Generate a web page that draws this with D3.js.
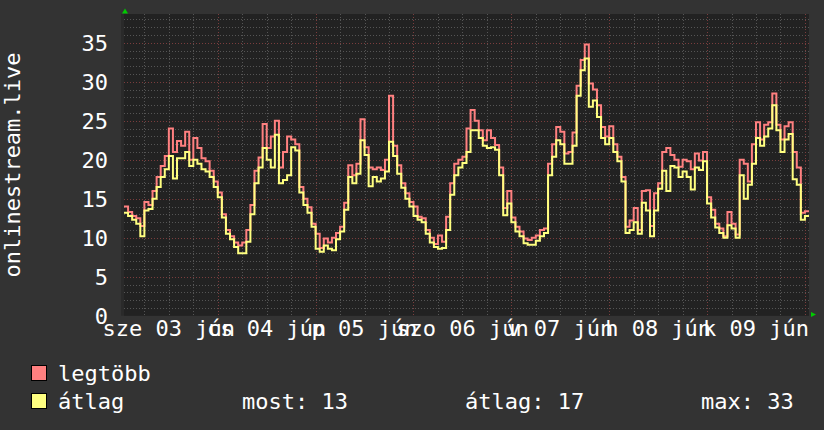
<!DOCTYPE html>
<html>
<head>
<meta charset="utf-8">
<script src="https://cdn.jsdelivr.net/npm/d3@7"></script>
<style>
  body { margin: 0; background: #333333; }
  svg text { font-family: "DejaVu Sans Mono", monospace; fill: #ffffff; }
</style>
</head>
<body>
<svg id="chart" width="824" height="430"></svg>
<script>
// hourly samples starting 2020-06-03 01:00 (UTC)
const maxValues = [
	14.0, 13.3, 12.8, 12.5, 11.5, 14.6, 14.2, 16.0, 17.8, 19.2, 20.5, 24.0,
	21.0, 22.4, 21.8, 23.6, 20.0, 22.8, 21.5, 20.2, 19.8, 18.6, 17.2, 15.8,
	13.0, 11.0, 10.2, 9.4, 9.0, 9.4, 11.0, 14.2, 18.6, 20.3, 24.6, 21.5,
	23.0, 25.0, 19.0, 21.0, 23.0, 22.6, 22.0, 16.5, 15.0, 13.9, 11.8, 10.5,
	8.7, 9.9, 9.4, 10.0, 10.6, 11.4, 14.5, 19.3, 18.0, 19.5, 25.2, 21.6,
	19.0, 18.8, 19.0, 18.7, 20.0, 28.2, 21.8, 19.3, 17.0, 15.7, 14.6, 14.0,
	12.7, 12.5, 11.0, 10.0, 9.2, 10.3, 9.5, 12.7, 17.0, 19.5, 20.0, 20.4,
	24.0, 26.4, 25.0, 23.8, 22.5, 23.8, 22.8, 21.9, 19.0, 13.8, 16.0, 12.6,
	11.4, 10.8, 9.9, 9.7, 10.0, 10.3, 11.0, 11.2, 19.5, 22.0, 24.2, 23.6,
	20.8, 21.0, 23.5, 29.5, 32.8, 34.8, 29.8, 29.0, 27.0, 24.2, 23.0, 24.3,
	22.0, 20.4, 17.8, 11.4, 12.2, 13.8, 11.0, 16.0, 16.1, 11.5, 15.7, 17.0,
	21.0, 21.5, 20.6, 20.0, 19.1, 20.0, 19.8, 18.8, 20.8, 19.9, 21.0, 15.2,
	13.6, 11.8, 11.2, 10.2, 13.3, 11.8, 10.4, 20.0, 19.5, 17.2, 22.0, 24.8,
	22.6, 24.5, 24.8, 28.5, 24.5, 22.6, 24.3, 24.8, 21.0, 19.0, 13.2, 13.4
];
const avgValues = [
	13.2, 12.8, 12.3, 11.8, 10.2, 13.5, 13.7, 15.0, 16.5, 17.8, 18.8, 20.5,
	17.6, 20.2, 20.2, 21.0, 19.2, 20.0, 19.5, 18.8, 18.5, 17.8, 16.5, 15.2,
	12.6, 10.5, 9.8, 8.8, 8.0, 8.0, 9.5, 13.0, 17.0, 19.0, 21.5, 20.0,
	19.0, 23.2, 17.0, 17.4, 18.0, 21.6, 21.2, 15.8, 14.2, 13.2, 11.4, 8.6,
	8.2, 9.0, 8.6, 8.4, 9.8, 10.8, 13.6, 17.8, 17.0, 18.2, 22.5, 20.6,
	16.6, 17.8, 17.2, 17.6, 18.5, 22.3, 20.5, 18.2, 16.4, 15.0, 14.0, 12.8,
	12.3, 12.0, 10.5, 9.4, 8.8, 8.6, 8.7, 11.0, 15.5, 18.0, 19.0, 19.6,
	21.0, 23.8, 23.8, 22.8, 21.8, 21.5, 21.6, 21.3, 18.0, 12.9, 14.4, 12.0,
	10.8, 10.2, 9.3, 9.1, 9.1, 9.6, 10.2, 10.6, 18.0, 20.4, 22.5, 22.0,
	19.5, 19.5, 21.8, 28.2, 31.5, 33.0, 26.8, 27.6, 25.5, 22.8, 22.0, 22.8,
	21.0, 19.8, 17.2, 10.6, 11.0, 12.0, 10.5, 14.5, 13.5, 10.2, 13.5, 16.3,
	18.6, 16.0, 19.2, 19.0, 17.8, 18.5, 17.8, 16.2, 19.0, 18.7, 19.8, 14.4,
	12.6, 11.3, 10.6, 10.0, 11.6, 11.2, 10.0, 18.0, 15.0, 16.8, 19.5, 22.8,
	21.8, 23.0, 24.0, 27.0, 23.8, 21.0, 22.6, 23.3, 17.5, 16.8, 12.3, 12.8
];
const seriesNames = ["legtöbb", "átlag"];
const seriesColors = ["#ff8080", "#ffff80"];
const gprintLabels = ["most: 13", "átlag: 17", "max: 33"];
const yTitle = "onlinestream.live";

const huLocale = d3.timeFormatLocale({
	dateTime: "%Y. %B %-e. %H:%M:%S", date: "%Y.%m.%d.", time: "%H:%M:%S",
	periods: ["de.", "du."],
	days: ["vasárnap", "hétfő", "kedd", "szerda", "csütörtök", "péntek", "szombat"],
	shortDays: ["v", "h", "k", "sze", "cs", "p", "szo"],
	months: ["január", "február", "március", "április", "május", "június", "július", "augusztus", "szeptember", "október", "november", "december"],
	shortMonths: ["jan", "febr", "márc", "ápr", "máj", "jún", "júl", "aug", "szept", "okt", "nov", "dec"]
});
const dayLabel = huLocale.utcFormat("%a %d %b");

const svg = d3.select("#chart");
const plotLeft = 124, plotRight = 809, plotTop = 14, plotBottom = 315.7;

const start = new Date(Date.UTC(2020, 5, 3, 1, 0));
const end = d3.utcHour.offset(start, maxValues.length);

const x = d3.scaleUtc().domain([start, end]).range([plotLeft, plotRight]);
const y = d3.scaleLinear().domain([0, 38.7]).range([plotBottom, plotTop]);

// backgrounds
svg.append("rect").attr("width", 824).attr("height", 430).attr("fill", "#333333");
svg.append("rect").attr("x", plotLeft - 3).attr("y", plotTop).attr("width", plotRight - plotLeft + 3)
	.attr("height", plotBottom - plotTop).attr("fill", "#2a2a2a");
svg.append("rect").attr("x", plotLeft).attr("y", plotTop).attr("width", plotRight - plotLeft)
	.attr("height", plotBottom - plotTop).attr("fill", "#222222");

// grid
const grid = svg.append("g").attr("stroke-dasharray", "1,2").attr("stroke-width", 1);
const crisp = v => Math.round(v) + 0.5;

d3.range(1, 39).forEach(v => {
	grid.append("line")
		.attr("x1", plotLeft).attr("x2", plotRight)
		.attr("y1", crisp(y(v))).attr("y2", crisp(y(v)))
		.attr("stroke", v % 5 === 0 ? "#7a3d3d" : "#555555");
});
d3.utcHour.every(6).range(start, end).forEach(t => {
	const major = t.getUTCHours() === 0;
	grid.append("line")
		.attr("x1", crisp(x(t))).attr("x2", crisp(x(t)))
		.attr("y1", plotTop).attr("y2", plotBottom)
		.attr("stroke", major ? "#7a3d3d" : "#555555");
});

// y axis labels
svg.append("g").selectAll("text")
	.data(d3.range(0, 36, 5))
	.join("text")
	.attr("x", 108).attr("y", d => y(d) + 8)
	.attr("text-anchor", "end")
	.attr("font-size", 22)
	.text(d => d);

// x axis labels centered at noon (only noons inside the plotted range)
const noons = d3.utcDay.range(d3.utcDay.floor(start), end)
	.map(d => d3.utcHour.offset(d, 12))
	.filter(d => d < end);
svg.append("g").selectAll("text")
	.data(noons)
	.join("text")
	.attr("x", d => x(d)).attr("y", 336)
	.attr("text-anchor", "middle")
	.attr("font-size", 22)
	.text(d => dayLabel(d));

// y title
svg.append("text")
	.attr("transform", "translate(20,165) rotate(-90)")
	.attr("text-anchor", "middle")
	.attr("font-size", 22)
	.text(yTitle);

// series lines (steps)
const toPoints = vals => {
	const pts = vals.map((v, i) => [d3.utcHour.offset(start, i), v]);
	pts.push([end, vals[vals.length - 1]]);
	return pts;
};
const line = d3.line()
	.x(d => x(d[0]))
	.y(d => y(d[1]))
	.curve(d3.curveStepAfter);

[maxValues, avgValues].forEach((vals, i) => {
	svg.append("path")
		.attr("d", line(toPoints(vals)))
		.attr("fill", "none")
		.attr("stroke", seriesColors[i])
		.attr("stroke-width", 2);
});

// arrows
svg.append("path").attr("d", "M122,13.5 L125,8.5 L128,13.5 Z").attr("fill", "#00cc00");
svg.append("path").attr("d", "M811,312 L816,314.5 L811,317 Z").attr("fill", "#00cc00");

// legend
const legend = svg.append("g");
seriesNames.forEach((name, i) => {
	const by = 381 + i * 28;
	legend.append("rect")
		.attr("x", 31.5).attr("y", by - 15.5)
		.attr("width", 15).attr("height", 15)
		.attr("fill", seriesColors[i])
		.attr("stroke", "#000000").attr("stroke-width", 1);
	legend.append("text")
		.attr("x", 58).attr("y", by)
		.attr("font-size", 22)
		.text(name);
});
const gprintX = [242, 465, 701];
gprintLabels.forEach((t, i) => {
	legend.append("text")
		.attr("x", gprintX[i]).attr("y", 409)
		.attr("font-size", 22)
		.text(t);
});
</script>
</body>
</html>
